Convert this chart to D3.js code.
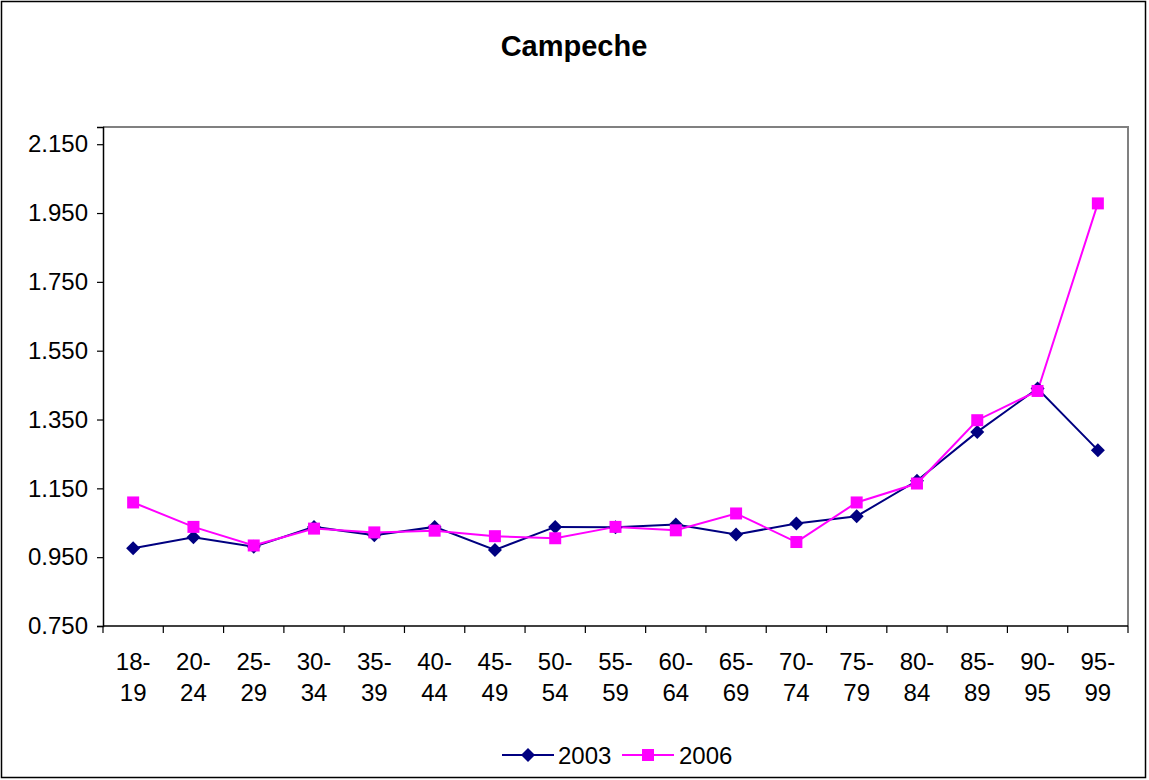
<!DOCTYPE html>
<html>
<head>
<meta charset="utf-8">
<script src="https://cdn.jsdelivr.net/npm/d3@7"></script>
<style>
  html, body { margin: 0; padding: 0; background: #fff; }
  svg { display: block; font-family: "Liberation Sans", Arial, sans-serif; }
</style>
</head>
<body>
<svg id="chart" width="1149" height="780"></svg>
<script>
const title = "Campeche";
const categories = ["18-19","20-24","25-29","30-34","35-39","40-44","45-49","50-54","55-59","60-64","65-69","70-74","75-79","80-84","85-89","90-95","95-99"];
const series2003 = [0.976,1.008,0.980,1.038,1.014,1.038,0.971,1.038,1.037,1.045,1.016,1.048,1.069,1.172,1.314,1.440,1.261];
const series2006 = [1.109,1.038,0.984,1.033,1.022,1.027,1.011,1.005,1.038,1.028,1.077,0.994,1.109,1.164,1.348,1.433,1.978];
const yTicks = [0.75,0.95,1.15,1.35,1.55,1.75,1.95,2.15];
const yDomain = [0.75, 2.2];
const seriesNames = ["2003","2006"];
const seriesColors = ["#000080","#FF00FF"];

const FONT = "Liberation Sans, Arial, sans-serif";
const svg = d3.select("#chart");
const W = 1149, H = 780;
const plot = {left: 103, right: 1128, top: 127, bottom: 626};

// outer border
svg.append("rect").attr("x",1.5).attr("y",1.5).attr("width",W-5).attr("height",H-4)
  .attr("fill","#fff").attr("stroke","#000").attr("stroke-width",1.5);

// title
svg.append("text").attr("x",574).attr("y",56).attr("text-anchor","middle")
  .attr("font-size","29px").attr("font-weight","bold").attr("font-family",FONT).text(title);

const x = d3.scaleBand().domain(categories).range([plot.left, plot.right]).padding(0);
const y = d3.scaleLinear().domain(yDomain).range([plot.bottom, plot.top]);

// plot frame (top/right gray)
svg.append("path")
  .attr("d", `M${plot.left},${plot.top}H${plot.right}V${plot.bottom}`)
  .attr("fill","none").attr("stroke","#808080").attr("stroke-width",2);

// y axis
const yAxis = d3.axisLeft(y).tickValues(yTicks).tickSize(6).tickPadding(9)
  .tickFormat(d => d3.format(".3f")(d));
const gy = svg.append("g").attr("transform",`translate(${plot.left},0)`).call(yAxis);
gy.attr("font-family", FONT).attr("font-size", 24);
gy.select(".domain").attr("stroke","#000").attr("stroke-width",1.5);
gy.selectAll(".tick line").attr("stroke","#000").attr("stroke-width",1.2);
gy.selectAll(".tick text").attr("fill","#000");

// x axis: ticks at band boundaries
const gx = svg.append("g").attr("transform",`translate(0,${plot.bottom})`)
  .attr("font-family", FONT).attr("font-size", 24);
gx.append("line").attr("x1",plot.left).attr("x2",plot.right).attr("y1",0).attr("y2",0)
  .attr("stroke","#000").attr("stroke-width",1.5);
const bounds = categories.map(c => x(c)).concat([plot.right]);
gx.selectAll("line.tk").data(bounds).enter().append("line").attr("class","tk")
  .attr("x1",d=>d).attr("x2",d=>d).attr("y1",0).attr("y2",7)
  .attr("stroke","#000").attr("stroke-width",1.2);
const lbl = gx.selectAll("text.lbl").data(categories).enter().append("text").attr("class","lbl")
  .attr("text-anchor","middle").attr("fill","#000");
lbl.append("tspan").attr("x", d => x(d) + x.bandwidth()/2).attr("y",44).text(d => d.split("-")[0] + "-");
lbl.append("tspan").attr("x", d => x(d) + x.bandwidth()/2).attr("y",75).text(d => d.split("-")[1]);

// lines
const allSeries = [series2003, series2006];
const line = d3.line().x((d,i) => x(categories[i]) + x.bandwidth()/2).y(d => y(d));
allSeries.forEach((s, k) => {
  svg.append("path").datum(s).attr("d", line).attr("fill","none")
    .attr("stroke", seriesColors[k]).attr("stroke-width", 2);
});
// markers
function drawMarker(g, k, cx, cy) {
  if (k === 0) {
    g.append("path").attr("d", "M0,-7L7,0L0,7L-7,0Z")
      .attr("transform",`translate(${cx},${cy})`).attr("fill", seriesColors[0]);
  } else {
    g.append("rect").attr("x",cx-6).attr("y",cy-6).attr("width",12).attr("height",12)
      .attr("fill", seriesColors[1]);
  }
}
allSeries.forEach((s, k) => {
  const g = svg.append("g");
  s.forEach((v,i) => drawMarker(g, k, x(categories[i]) + x.bandwidth()/2, y(v)));
});

// legend
const legend = svg.append("g").attr("font-family", FONT).attr("font-size", 24);
const legY = 755;
const legItems = [{x0: 502, tx: 558}, {x0: 622, tx: 679}];
legItems.forEach((it, k) => {
  legend.append("line").attr("x1",it.x0).attr("x2",it.x0+52).attr("y1",legY).attr("y2",legY)
    .attr("stroke",seriesColors[k]).attr("stroke-width",2);
  drawMarker(legend, k, it.x0+26, legY);
  legend.append("text").attr("x",it.tx).attr("y",legY+8.5).text(seriesNames[k]);
});
</script>
</body>
</html>
